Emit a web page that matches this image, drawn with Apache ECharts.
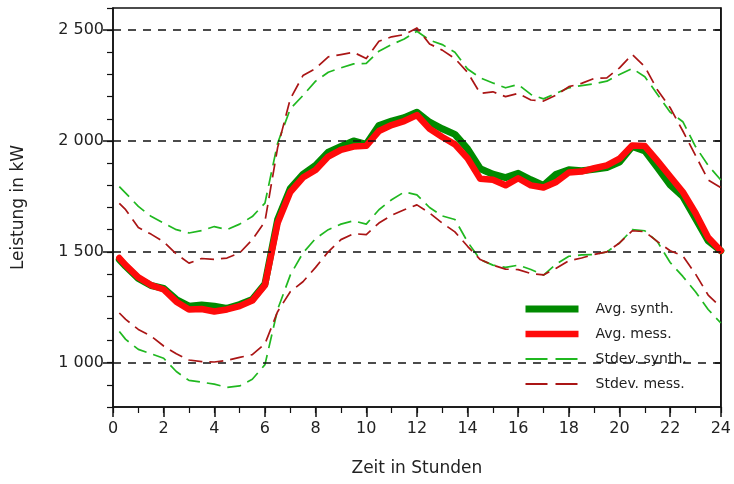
<!DOCTYPE html>
<html>
<head>
<meta charset="utf-8">
<title>Leistung über den Tag</title>
<script src="https://cdn.jsdelivr.net/npm/echarts@6/dist/echarts.min.js"></script>
<style>
  html, body { margin: 0; padding: 0; background: #fff; }
  #chart { width: 734px; height: 484px; }
</style>
</head>
<body>
<div id="chart"></div>
<script>
// Time of day in hours (quarter hour start, then half-hourly)
const hours = [0.25, 0.5, 1, 1.5, 2, 2.5, 3, 3.5, 4, 4.5, 5, 5.5, 6, 6.5, 7, 7.5, 8, 8.5, 9, 9.5,
  10, 10.5, 11, 11.5, 12, 12.5, 13, 13.5, 14, 14.5, 15, 15.5, 16, 16.5, 17, 17.5, 18, 18.5, 19, 19.5,
  20, 20.5, 21, 21.5, 22, 22.5, 23, 23.5, 24];

// Mean load, synthetic profile (kW)
const avgSynth = [1465, 1435, 1380, 1348, 1335, 1285, 1255, 1260, 1255, 1245, 1262, 1285, 1355, 1645, 1785, 1850, 1890, 1950, 1975, 2000,
  1985, 2070, 2090, 2105, 2130, 2085, 2055, 2030, 1965, 1875, 1850, 1835, 1854, 1825, 1800, 1850, 1870, 1866, 1872, 1880,
  1905, 1975, 1955, 1880, 1802, 1750, 1650, 1550, 1505];

// Mean load, measured (kW)
const avgMess = [1472, 1440, 1385, 1350, 1330, 1275, 1240, 1242, 1231, 1240, 1255, 1280, 1350, 1630, 1770, 1835, 1869, 1930, 1960, 1975,
  1978, 2045, 2072, 2090, 2117, 2055, 2018, 1985, 1922, 1830, 1825, 1800, 1832, 1800, 1790, 1815, 1858, 1862, 1877, 1890,
  1920, 1980, 1977, 1910, 1840, 1770, 1675, 1565, 1505];

// Mean ± standard deviation, synthetic profile (kW)
const stdSynthUpper = [1794, 1765, 1705, 1660, 1630, 1600, 1585, 1596, 1614, 1600, 1625, 1659, 1720, 1990, 2145, 2205, 2270, 2310, 2330, 2348,
  2350, 2405, 2435, 2460, 2495, 2455, 2435, 2400, 2325, 2285, 2262, 2240, 2255, 2210, 2190, 2215, 2240, 2250, 2258, 2270,
  2300, 2327, 2290, 2210, 2130, 2087, 1975, 1890, 1824];
const stdSynthLower = [1141, 1105, 1060, 1040, 1020, 960, 920, 912, 903, 888, 895, 925, 991, 1240, 1395, 1495, 1560, 1600, 1625, 1640,
  1625, 1690, 1735, 1770, 1757, 1700, 1662, 1646, 1545, 1465, 1440, 1430, 1440, 1420, 1395, 1445, 1480, 1486, 1488, 1500,
  1540, 1600, 1595, 1545, 1452, 1389, 1320, 1240, 1179];

// Mean ± standard deviation, measured (kW)
const stdMessUpper = [1719, 1690, 1610, 1580, 1545, 1490, 1449, 1470, 1466, 1472, 1495, 1555, 1637, 1970, 2190, 2295, 2327, 2380, 2390, 2400,
  2372, 2450, 2470, 2480, 2510, 2438, 2410, 2372, 2310, 2215, 2222, 2200, 2215, 2185, 2180, 2207, 2245, 2260, 2282, 2285,
  2330, 2390, 2335, 2230, 2150, 2045, 1935, 1824, 1790];
const stdMessLower = [1224, 1195, 1150, 1120, 1075, 1040, 1012, 1005, 1003, 1010, 1024, 1036, 1085, 1230, 1320, 1365, 1430, 1500, 1555, 1582,
  1578, 1630, 1665, 1690, 1712, 1675, 1630, 1590, 1525, 1465, 1440, 1422, 1420, 1402, 1396, 1426, 1460, 1472, 1488, 1500,
  1540, 1595, 1591, 1546, 1505, 1482, 1400, 1305, 1250];

// Axis ticks and labels
const majorY = [1000, 1500, 2000, 2500];
const xTickStep = 2;
const seriesNames = ['Avg. synth.', 'Avg. mess.', 'Stdev. synth.', 'Stdev. mess.'];

const FONT = 'DejaVu Sans';
const pairs = (vals) => hours.map((h, i) => [h, vals[i]]);
const fmtThousands = (v) => String(Math.round(v)).replace(/\B(?=(\d{3})+(?!\d))/g, ' ');

const chart = echarts.init(document.getElementById('chart'), null, { renderer: 'canvas' });

const thick = (color, width) => ({
  type: 'line', showSymbol: false, symbol: 'none', smooth: false,
  lineStyle: { color, width, cap: 'round', join: 'round' },
  itemStyle: { color },
  emphasis: { disabled: true }
});
const dashed = (color) => ({
  type: 'line', showSymbol: false, symbol: 'none', smooth: false,
  lineStyle: { color, width: 1.7, type: [14, 7], join: 'round' },
  itemStyle: { color },
  emphasis: { disabled: true }
});

const synthGreen = '#008a00';
const messRed = '#ff0a0a';
const stdGreen = '#20b820';
const stdRed = '#aa1515';

// Legend entries: plain line samples, no marker
const legendItems = [
  { name: seriesNames[0], itemStyle: { opacity: 0 }, lineStyle: { width: 7, cap: 'butt' } },
  { name: seriesNames[1], itemStyle: { opacity: 0 }, lineStyle: { width: 6.5, cap: 'butt' } },
  { name: seriesNames[2], itemStyle: { opacity: 0 }, lineStyle: { width: 1.8, type: [22, 8] } },
  { name: seriesNames[3], itemStyle: { opacity: 0 }, lineStyle: { width: 1.8, type: [22, 8] } }
];

chart.setOption({
  animation: false,
  backgroundColor: '#ffffff',
  grid: {
    left: 113, right: 9, top: 8, bottom: 77,
    show: true, borderColor: '#111', borderWidth: 1.5, backgroundColor: 'transparent'
  },
  legend: {
    data: legendItems,
    orient: 'vertical',
    left: 517, top: 297,
    itemWidth: 53, itemHeight: 14, itemGap: 11,
    textStyle: { fontFamily: FONT, fontSize: 14, color: '#222', padding: [0, 0, 0, 12] },
    selectedMode: false
  },
  xAxis: [
    {
      type: 'value', min: 0, max: 24, interval: xTickStep, position: 'bottom',
      name: 'Zeit in Stunden', nameLocation: 'middle', nameGap: 53,
      nameTextStyle: { fontFamily: FONT, fontSize: 17, color: '#222' },
      axisLine: { show: true, lineStyle: { color: '#111', width: 1.5 } },
      axisTick: { show: true, length: 10, lineStyle: { color: '#111', width: 1.5 } },
      axisLabel: { fontFamily: FONT, fontSize: 16, color: '#222', margin: 14 },
      splitLine: { show: false }
    },
    {
      type: 'value', min: 0, max: 24, interval: 1, position: 'bottom', gridIndex: 0,
      axisLine: { show: false },
      axisTick: { show: true, length: 6, lineStyle: { color: '#111', width: 1.2 } },
      axisLabel: { show: false },
      splitLine: { show: false }
    }
  ],
  yAxis: [
    {
      type: 'value', min: 800, max: 2600, position: 'left',
      name: 'Leistung in kW', nameLocation: 'middle', nameGap: 86, nameRotate: 90,
      nameTextStyle: { fontFamily: FONT, fontSize: 17, color: '#222' },
      axisLine: { show: true, lineStyle: { color: '#111', width: 1.5 } },
      axisTick: { show: true, length: 10, customValues: majorY, lineStyle: { color: '#111', width: 1.5 } },
      axisLabel: { customValues: majorY, fontFamily: FONT, fontSize: 16, color: '#222', margin: 9, formatter: fmtThousands },
      splitLine: { show: false }
    },
    {
      type: 'value', min: 800, max: 2600, interval: 100, position: 'left', offset: 0,
      axisLine: { show: false },
      axisTick: { show: true, length: 6, lineStyle: { color: '#111', width: 1.2 } },
      axisLabel: { show: false },
      splitLine: { show: false }
    },
    {
      type: 'value', min: 800, max: 2600, position: 'right', offset: 0,
      axisLine: { show: true, lineStyle: { color: '#111', width: 1.5 } },
      axisTick: { show: true, inside: true, length: 6, customValues: majorY, lineStyle: { color: '#111', width: 1.5 } },
      axisLabel: { show: false },
      splitLine: { show: false }
    }
  ],
  series: [
    {
      name: 'grid', type: 'line', data: [], z: 1, silent: true,
      markLine: {
        silent: true, symbol: ['none', 'none'], label: { show: false },
        lineStyle: { color: '#111', width: 1.6, type: [8, 7] },
        emphasis: { disabled: true },
        data: majorY.map((v) => ({ yAxis: v }))
      }
    },
    Object.assign(thick(synthGreen, 7), { name: seriesNames[0], data: pairs(avgSynth), z: 2 }),
    Object.assign(thick(messRed, 6.5), { name: seriesNames[1], data: pairs(avgMess), z: 3 }),
    Object.assign(dashed(stdGreen), { name: seriesNames[2], data: pairs(stdSynthUpper), z: 4 }),
    Object.assign(dashed(stdGreen), { name: seriesNames[2], data: pairs(stdSynthLower), z: 4 }),
    Object.assign(dashed(stdRed), { name: seriesNames[3], data: pairs(stdMessUpper), z: 5 }),
    Object.assign(dashed(stdRed), { name: seriesNames[3], data: pairs(stdMessLower), z: 5 })
  ]
});
</script>
</body>
</html>
